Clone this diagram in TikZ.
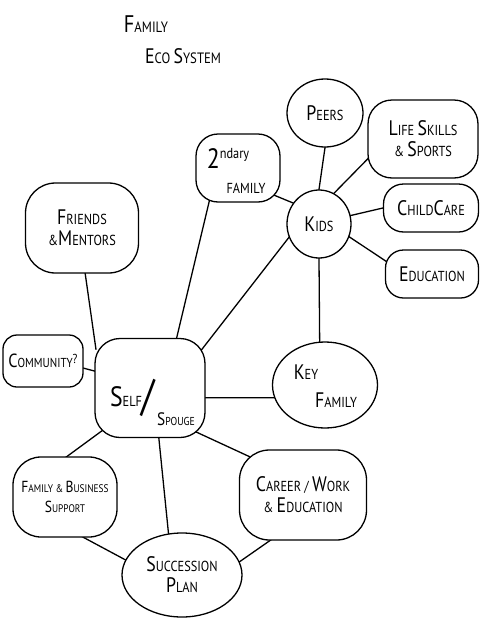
\documentclass[tikz,border=0pt]{standalone}
\usepackage{fontspec}
\setmainfont{PT Sans}[FakeStretch=0.85]
\usetikzlibrary{shapes.geometric}
\pgfdeclarelayer{bg}
\pgfsetlayers{bg,main}
\newcommand\C[1]{{\fontsize{21}{21}\selectfont #1}}
\begin{document}
\begin{tikzpicture}[x=1pt,y=-1pt,line width=1.3pt,
  blob/.style={draw, fill=white, rounded corners=#1, align=center, inner sep=0pt, font=\fontsize{14.5}{21}\selectfont},
  blob/.default=20pt,
  oval/.style={draw, fill=white, ellipse, align=center, inner sep=0pt, font=\fontsize{14.5}{21}\selectfont},
  lbl/.style={align=center, inner sep=0pt, font=\fontsize{14.5}{21}\selectfont},
  link/.style={line width=1.3pt, shorten <=-12pt, shorten >=-12pt}]
\useasboundingbox (0,0) rectangle (500,635);
% title
\node[lbl,font=\fontsize{15}{19}\selectfont] (t1) at (146,24) {{\fontsize{24}{24}\selectfont F}AMILY};
\node[lbl,font=\fontsize{15}{19}\selectfont] (t2) at (183,56) {{\fontsize{21}{21}\selectfont E}CO {\fontsize{21}{21}\selectfont S}YSTEM};
% nodes
\node[oval, minimum width=76pt, minimum height=68pt] (peers) at (325,113) {\C{P}EERS};
\node[blob=24pt, minimum width=110pt, minimum height=78pt] (life) at (423,139) {\C{L}IFE \C{S}KILLS\\ \& \C{S}PORTS};
\node[blob=20pt, minimum width=95pt, minimum height=48pt] (child) at (431,208) {\C{C}HILD\C{C}ARE};
\node[blob=18pt, minimum width=93pt, minimum height=48pt] (edu) at (432,274) {\C{E}DUCATION};
\node[oval, minimum width=64pt, minimum height=68pt] (kids) at (319,224) {\C{K}IDS};
\node[blob=22pt, minimum width=84pt, minimum height=68pt] (sec) at (238,168) {};
\node[lbl] (sect1) at (228,158) {{\fontsize{28}{28}\selectfont 2}\raisebox{10pt}{ndary}};
\node[lbl] (sect2) at (246,188) {FAMILY};
\node[blob=30pt, minimum width=113pt, minimum height=90pt] (friends) at (82,228) {\C{F}RIENDS\\ \&\C{M}ENTORS};
\node[blob=14pt, minimum width=80pt, minimum height=52pt, font=\fontsize{13}{19}\selectfont] (comm) at (43,361) {{\fontsize{19}{19}\selectfont C}OMMUNITY\raisebox{4pt}{?}};
\node[blob=25pt, minimum width=110pt, minimum height=99pt] (self) at (150,388) {};
\node[lbl] (selft1) at (126,397) {{\fontsize{28}{28}\selectfont S}ELF};
\node[lbl,font=\fontsize{44}{44}\selectfont] (slash) at (148,398) {/};
\node[lbl,font=\fontsize{11.5}{14}\selectfont] (selft2) at (176,419) {{\fontsize{18}{18}\selectfont S}POUGE};
\node[oval, minimum width=105pt, minimum height=86pt] (key) at (325,385) {};
\node[lbl] (keyt1) at (306,372) {\C{K}EY};
\node[lbl] (keyt2) at (336,400) {\C{F}AMILY};
\node[blob=28pt, minimum width=104pt, minimum height=80pt, font=\fontsize{11}{20}\selectfont] (fbs) at (65,497) {{\fontsize{16}{16}\selectfont F}AMILY \& {\fontsize{16}{16}\selectfont B}USINESS\\ {\fontsize{16}{16}\selectfont S}UPPORT};
\node[blob=30pt, minimum width=127pt, minimum height=90pt] (career) at (303,495) {\C{C}AREER / \C{W}ORK\\ \& \C{E}DUCATION};
\node[oval, minimum width=120pt, minimum height=84pt] (succ) at (182,575) {\C{S}UCCESSION\\ \C{P}LAN};
% connectors
\begin{pgfonlayer}{bg}
\draw[link] (kids.north) -- (peers.south);
\draw[link] (kids.64) -- (life.200);
\draw[link] (kids.15) -- (child.west);
\draw[link] (kids.337) -- (edu.164);
\draw[link] (kids.141) -- (sec.325);
\draw[link] (kids.204) -- (self.38);
\draw[link] (kids.270) -- (key.97);
\draw[link] (sec.230) -- (self.62);
\draw[link] (friends.274) -- (self.138);
\draw[link] (comm.350) -- (self.163);
\draw[link] (key.194) -- (self.350);
\draw[link] (self.221) -- (fbs.87);
\draw[link] (self.280) -- (succ.108);
\draw[link] (self.319) -- (career.146);
\draw[link] (fbs.295) -- (succ.165);
\draw[link] (career.234) -- (succ.13);
\end{pgfonlayer}
\end{tikzpicture}
\end{document}
